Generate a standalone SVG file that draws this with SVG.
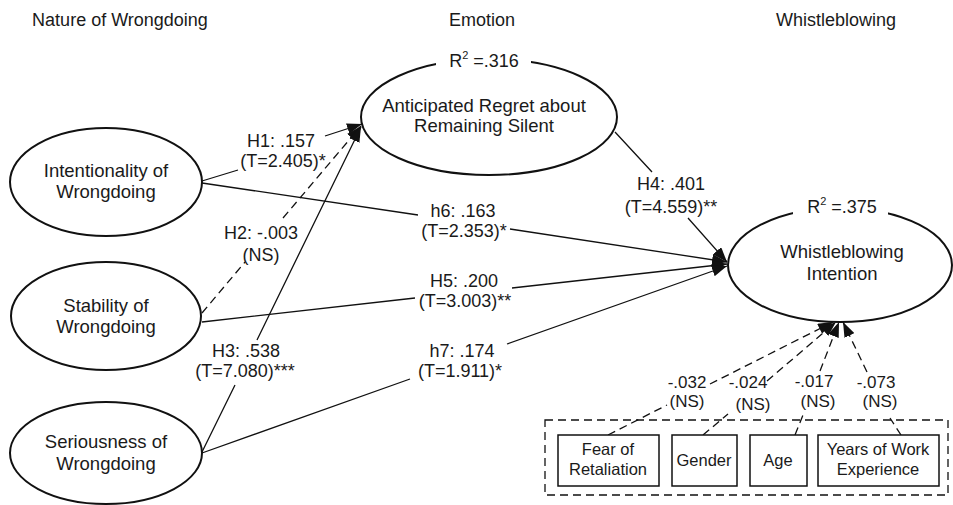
<svg xmlns="http://www.w3.org/2000/svg" width="953" height="505" viewBox="0 0 953 505">
<style>
text{font-family:"Liberation Sans",Arial,sans-serif;fill:#1a1a1a;text-anchor:middle}
.h{font-size:18px}
.n{font-size:18.5px}
.l{font-size:18px}
.c{font-size:17px}
.b{font-size:16.5px}
.ell{fill:none;stroke:#111;stroke-width:2}
.box{fill:#fff;stroke:#111;stroke-width:1.5}
.ln{fill:none;stroke:#111;stroke-width:1.3;marker-end:url(#ah)}
.ds{stroke-dasharray:8,5}
.sup{font-size:11px}
</style>
<defs>
<marker id="ah" markerUnits="userSpaceOnUse" markerWidth="15" markerHeight="11" refX="15" refY="5.5" orient="auto">
<path d="M0,0 L15,5.5 L0,11 z" fill="#111"/>
</marker>
</defs>
<rect width="953" height="505" fill="#fff"/>
<g id="headers">
<text class="h" x="120" y="26">Nature of Wrongdoing</text>
<text class="h" x="482" y="26">Emotion</text>
<text class="h" x="836" y="26">Whistleblowing</text>
</g>
<g id="connectors">
<path id="h1" class="ln" d="M202,181 L238,170 M325,136 L362,124"/>
<path id="h2" class="ln ds" d="M202,313 L245,262 M283,218 L361,126"/>
<path id="h3" class="ln" d="M202,452 L235,385 M257,340 L361,127"/>
<path id="h4" class="ln" d="M615,132 L652,172 M688,218 L727,262"/>
<path id="h6" class="ln" d="M202,183 L418,215 M510,229 L727,262"/>
<path id="h5" class="ln" d="M202,322 L415,298 M512,288 L727,264"/>
<path id="h7" class="ln" d="M202,453 L410,379 M507,344 L727,266"/>
<path id="c1" class="ln ds" d="M608,435 L667,405 M710,384 L833,322"/>
<path id="c2" class="ln ds" d="M703,435 L728,414 M767,381 L836,322"/>
<path id="c3" class="ln ds" d="M795,435 L803,415 M820,371 L839,322"/>
<path id="c4" class="ln ds" d="M901,435 L890,418 M867,372 L843,322"/>
</g>
<g id="labels">
<text class="l" x="281" y="147">H1: .157</text>
<text class="l" x="283" y="167">(T=2.405)*</text>
<text class="l" x="261" y="239">H2: -.003</text>
<text class="l" x="261" y="261">(NS)</text>
<text class="l" x="246" y="357">H3: .538</text>
<text class="l" x="245" y="377">(T=7.080)***</text>
<text class="l" x="671" y="190">H4: .401</text>
<text class="l" x="671" y="213">(T=4.559)**</text>
<text class="l" x="463" y="217">h6: .163</text>
<text class="l" x="464" y="237">(T=2.353)*</text>
<text class="l" x="464" y="287">H5: .200</text>
<text class="l" x="465" y="307">(T=3.003)**</text>
<text class="l" x="462" y="357">h7: .174</text>
<text class="l" x="460" y="377">(T=1.911)*</text>
<text class="c" x="687" y="388">-.032</text>
<text class="c" x="687" y="407">(NS)</text>
<text class="c" x="748" y="388">-.024</text>
<text class="c" x="753" y="410">(NS)</text>
<text class="c" x="814" y="387">-.017</text>
<text class="c" x="818" y="407">(NS)</text>
<text class="c" x="876" y="388">-.073</text>
<text class="c" x="880" y="407">(NS)</text>
</g>
<g id="intentionality">
<ellipse class="ell" cx="106" cy="182" rx="96" ry="54"/>
<text class="n" x="106" y="177">Intentionality of</text>
<text class="n" x="106" y="198">Wrongdoing</text>
</g>
<g id="stability">
<ellipse class="ell" cx="106" cy="316" rx="95" ry="54"/>
<text class="n" x="106" y="312">Stability of</text>
<text class="n" x="106" y="333">Wrongdoing</text>
</g>
<g id="seriousness">
<ellipse class="ell" cx="106" cy="453" rx="96" ry="51"/>
<text class="n" x="106" y="448">Seriousness of</text>
<text class="n" x="106" y="470">Wrongdoing</text>
</g>
<g id="regret">
<ellipse class="ell" cx="489" cy="117" rx="128" ry="58"/>
<rect x="436" y="48" width="95" height="24" fill="#fff"/>
<text class="l" x="484" y="67">R<tspan class="sup" dy="-8">2</tspan><tspan dy="8"> =.316</tspan></text>
<text class="n" x="484" y="112">Anticipated Regret about</text>
<text class="n" x="484" y="132">Remaining Silent</text>
</g>
<g id="whistleblowing">
<ellipse class="ell" cx="840" cy="265" rx="112" ry="57"/>
<rect x="793" y="196" width="95" height="22" fill="#fff"/>
<text class="l" x="842" y="213">R<tspan class="sup" dy="-8">2</tspan><tspan dy="8"> =.375</tspan></text>
<text class="n" x="842" y="258">Whistleblowing</text>
<text class="n" x="842" y="280">Intention</text>
</g>
<g id="controls">
<rect x="545" y="420" width="403" height="75" fill="none" stroke="#111" stroke-width="1.3" stroke-dasharray="8,5"/>
</g>
<g id="fear">
<rect class="box" x="558" y="435" width="101" height="51"/>
<text class="b" x="608" y="455">Fear of</text>
<text class="b" x="608" y="475">Retaliation</text>
</g>
<g id="gender">
<rect class="box" x="672" y="435" width="65" height="51"/>
<text class="b" x="704" y="466">Gender</text>
</g>
<g id="age">
<rect class="box" x="750" y="435" width="57" height="51"/>
<text class="b" x="778" y="466">Age</text>
</g>
<g id="experience">
<rect class="box" x="818" y="435" width="121" height="51"/>
<text class="b" x="878" y="455">Years of Work</text>
<text class="b" x="878" y="475">Experience</text>
</g>
</svg>
